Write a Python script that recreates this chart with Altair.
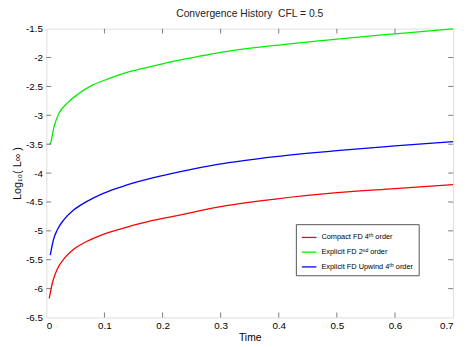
import altair as alt
import pandas as pd

# ---- data ----
red_t = [0.005, 0.0107, 0.019, 0.030, 0.047, 0.070, 0.098, 0.1375, 0.183, 0.233, 0.295, 0.394, 0.50, 0.60, 0.70]
red_y = [-6.17, -5.89, -5.66, -5.49, -5.32, -5.18, -5.06, -4.94, -4.82, -4.72, -4.59, -4.45, -4.34, -4.27, -4.20]

green_t = [0.005, 0.0068, 0.0135, 0.022, 0.036, 0.053, 0.081, 0.109, 0.143, 0.183, 0.222, 0.262, 0.300, 0.394, 0.50, 0.60, 0.70]
green_y = [-3.50, -3.49, -3.19, -2.96, -2.79, -2.645, -2.47, -2.36, -2.245, -2.15, -2.06, -1.98, -1.91, -1.79, -1.68, -1.59, -1.505]

blue_t = [0.0068, 0.0124, 0.019, 0.030, 0.047, 0.070, 0.098, 0.1375, 0.183, 0.233, 0.295, 0.394, 0.50, 0.60, 0.70]
blue_y = [-5.42, -5.15, -4.98, -4.81, -4.64, -4.49, -4.35, -4.21, -4.085, -3.97, -3.85, -3.715, -3.61, -3.53, -3.455]

series_names = [
    "Compact FD 4ᵗʰ order",
    "Explicit FD 2ⁿᵈ order",
    "Explicit FD Upwind 4ᵗʰ order",
]
series_colors = ["#ff0000", "#00ee00", "#0000ff"]

x_ticks = [0, 0.1, 0.2, 0.3, 0.4, 0.5, 0.6, 0.7]
y_ticks = [-6.5, -6, -5.5, -5, -4.5, -4, -3.5, -3, -2.5, -2, -1.5]

rows = []
for name, ts, ys in zip(series_names, [red_t, green_t, blue_t], [red_y, green_y, blue_y]):
    for i, (t, y) in enumerate(zip(ts, ys)):
        rows.append({"series": name, "t": t, "y": y, "order": i})
df = pd.DataFrame(rows)

W, H = 414, 294
FONT = "Liberation Sans"

xscale = alt.Scale(domain=[0, 0.7], nice=False, zero=False)
yscale = alt.Scale(domain=[-6.5, -1.5], nice=False, zero=False)

xaxis = alt.Axis(values=x_ticks, title="Time", labelExpr="'' + datum.value",
                 tickSize=0, domain=False, grid=False, labelPadding=3,
                 labelOverlap=False, titlePadding=2, titleFontWeight="normal",
                 titleFontSize=10.5)
yaxis = alt.Axis(values=y_ticks, title="Log₁₀( L∞ )", labelExpr="'' + datum.value",
                 tickSize=0, domain=False, grid=False, labelPadding=4,
                 labelOverlap=False, titlePadding=3,
                 titleFontWeight="normal", titleFontSize=11, titleColor="#111")

lines = alt.Chart(df).mark_line(strokeWidth=1.3, interpolate="monotone").encode(
    x=alt.X("t:Q", scale=xscale, axis=xaxis),
    y=alt.Y("y:Q", scale=yscale, axis=yaxis),
    color=alt.Color("series:N",
                    scale=alt.Scale(domain=series_names, range=series_colors),
                    legend=alt.Legend(title=None, orient="none", legendX=254, legendY=199,
                                      direction="vertical", symbolType="stroke",
                                      symbolSize=220, symbolStrokeWidth=1.3,
                                      labelFontSize=7.5, labelFont=FONT,
                                      strokeColor="#555", fillColor="white",
                                      padding=5, rowPadding=3, labelLimit=200)),
    order="order:Q",
)

xt = pd.DataFrame({"t": x_ticks[1:-1]})
yt = pd.DataFrame({"y": y_ticks[1:-1]})

tick_style = dict(color="#444", thickness=1, size=5)
bx = alt.Chart(xt).mark_tick(**tick_style).encode(x=alt.X("t:Q", scale=xscale, axis=xaxis), y=alt.value(H - 2.5))
tx = alt.Chart(xt).mark_tick(**tick_style).encode(x=alt.X("t:Q", scale=xscale, axis=xaxis), y=alt.value(2.5))
ly = alt.Chart(yt).mark_tick(**tick_style).encode(y=alt.Y("y:Q", scale=yscale, axis=yaxis), x=alt.value(2.5))
ry = alt.Chart(yt).mark_tick(**tick_style).encode(y=alt.Y("y:Q", scale=yscale, axis=yaxis), x=alt.value(W - 2.5))

chart = alt.layer(lines, bx, tx, ly, ry).properties(
    width=W, height=H,
    title=alt.Title("Convergence History\u00a0\u00a0CFL = 0.5", fontSize=10.5, fontWeight="normal",
                    font=FONT, color="#222", offset=4),
    autosize=alt.AutoSizeParams(type="none"),
    padding={"left": 39, "top": 18, "right": 5, "bottom": 27},
).configure_view(stroke="#555", strokeWidth=1).configure_axis(
    labelFont=FONT, labelFontSize=8.5, labelColor="#333",
    titleFont=FONT, titleColor="#222",
).configure(background="white")

chart.save("out.html", embed_options={"renderer": "svg", "actions": False})
